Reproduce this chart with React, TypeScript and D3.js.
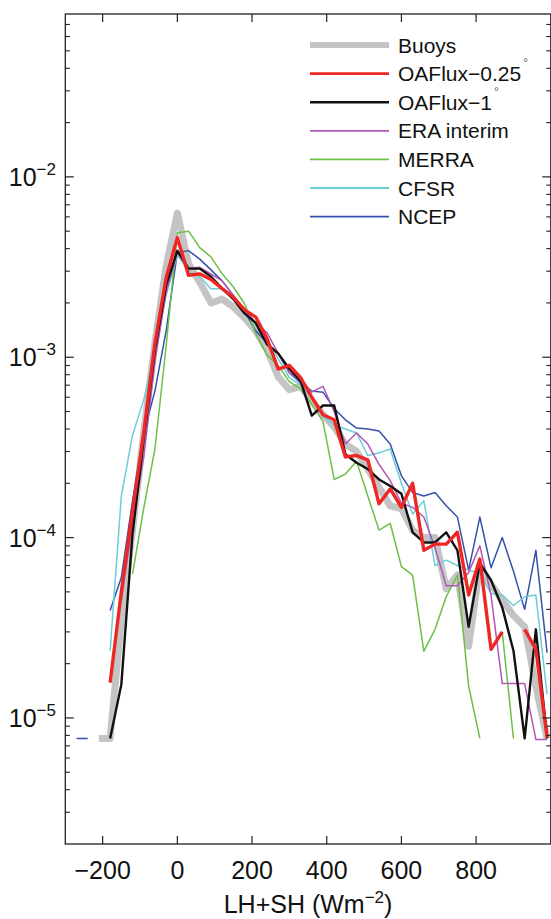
import React from 'react';
import * as d3 from 'd3';

// Bin centres of the flux histogram (W m^-2)
const fluxBins = [
  -270, -240, -210, -180, -150, -120, -90, -60, -30, 0, 30, 60, 90, 120, 150, 180, 210, 240,
  270, 300, 330, 360, 390, 420, 450, 480, 510, 540, 570, 600, 630, 660, 690, 720, 750, 780,
  810, 840, 870, 900, 930, 960, 990,
];

// Probability density per bin; null = empty bin
const buoys = [
  null, null, 7.7e-6, 7.7e-6, 3.5e-5, 1.1e-4, 3.8e-4, 1.2e-3, 3.2e-3, 6.3e-3, 3.3e-3, 2.6e-3, 2.0e-3, 2.1e-3, 1.9e-3, 1.65e-3, 1.4e-3, 1.1e-3,
  7.8e-4, 6.6e-4, 6.9e-4, 5.7e-4, 4.8e-4, 4.1e-4, 3.3e-4, 3.0e-4, 2.4e-4, 1.9e-4, 1.5e-4, 1.45e-4, 1.1e-4, 1.0e-4, 1.0e-4, 5.2e-5, 6.2e-5, 2.5e-5,
  7.0e-5, 5.5e-5, 4.5e-5, 3.7e-5, 3.2e-5, 1.5e-5, 7.7e-6,
];
const oaflux025 = [
  null, null, null, 1.57e-5, 5.0e-5, 1.4e-4, 3.8e-4, 1.2e-3, 2.75e-3, 4.6e-3, 2.85e-3, 2.9e-3, 2.7e-3, 2.4e-3, 2.15e-3, 1.83e-3, 1.67e-3, 1.27e-3,
  8.6e-4, 9.0e-4, 7.7e-4, 6.0e-4, 4.8e-4, 4.5e-4, 2.8e-4, 2.85e-4, 2.7e-4, 1.54e-4, 1.86e-4, 1.47e-4, 2.0e-4, 8.5e-5, 9.2e-5, 9.2e-5, 1.07e-4, 4.8e-5,
  7.6e-5, 2.4e-5, 3.0e-5, null, 3.1e-5, 2.4e-5, 7.8e-6,
];
const oaflux1 = [
  null, null, null, 7.7e-6, 1.53e-5, 1.05e-4, 3.5e-4, 1.1e-3, 2.5e-3, 3.9e-3, 3.1e-3, 3.1e-3, 2.8e-3, 2.4e-3, 2.1e-3, 1.75e-3, 1.55e-3, 1.18e-3,
  1.05e-3, 8.6e-4, 7.4e-4, 4.75e-4, 5.4e-4, 5.4e-4, 2.9e-4, 2.6e-4, 2.4e-4, 2.1e-4, 1.93e-4, 1.75e-4, 1.07e-4, 9.4e-5, 9.4e-5, 1.07e-4, 8.5e-5, 3.2e-5,
  7.2e-5, 5.8e-5, 4.1e-5, 2.36e-5, 7.7e-6, 3.1e-5, 7.7e-6,
];
const eraInterim = [
  null, null, null, null, 4.5e-5, 1.2e-4, 2.8e-4, 9.5e-4, 2.3e-3, 3.8e-3, 3.1e-3, 3.15e-3, 2.9e-3, 2.65e-3, 2.2e-3, 1.85e-3, 1.55e-3, 1.37e-3,
  1.05e-3, 8.2e-4, 7.6e-4, 6.4e-4, 6.9e-4, 5.0e-4, 3.3e-4, 3.8e-4, 3.3e-4, 2.55e-4, 2.07e-4, 1.55e-4, 1.47e-4, 1.3e-4, 8.8e-5, 5.4e-5, 5.4e-5, 6.4e-5,
  9.0e-5, 4.8e-5, 1.55e-5, 1.55e-5, 1.55e-5, 7.6e-6, 7.6e-6,
];
const merra = [
  null, null, null, null, null, 6.3e-5, 1.45e-4, 3.1e-4, 1.15e-3, 4.9e-3, 5.0e-3, 4.05e-3, 3.6e-3, 2.9e-3, 2.45e-3, 1.98e-3, 1.35e-3, 1.03e-3,
  9.0e-4, 7.3e-4, 6.7e-4, 5.5e-4, 4.4e-4, 2.1e-4, 2.25e-4, 2.65e-4, 1.7e-4, 1.1e-4, 1.2e-4, 6.9e-5, 6.2e-5, 2.34e-5, 3.1e-5, 4.7e-5, 6.2e-5, 1.5e-5,
  7.7e-6, null, 3.0e-5, 7.7e-6, null, null, null,
];
const cfsr = [
  null, null, null, 2.36e-5, 1.7e-4, 3.7e-4, 5.8e-4, 1.1e-3, 2.2e-3, 3.7e-3, 3.0e-3, 2.8e-3, 2.4e-3, 2.4e-3, 2.15e-3, 1.8e-3, 1.5e-3, 1.25e-3,
  9.8e-4, 7.7e-4, 7.0e-4, 6.0e-4, 4.7e-4, 4.2e-4, 4.0e-4, 3.8e-4, 2.85e-4, 2.95e-4, 3.1e-4, 2.0e-4, 1.35e-4, 1.6e-4, 7.0e-5, 7.5e-5, 7.0e-5, 6.6e-5,
  6.3e-5, 4.9e-5, 4.8e-5, 4.2e-5, 4.7e-5, 4.8e-5, 1.35e-5,
];
const ncep = [
  7.7e-6, 7.7e-6, null, 3.94e-5, 6.0e-5, 1.6e-4, 3.8e-4, 6.5e-4, 1.4e-3, 3.8e-3, 3.9e-3, 3.5e-3, 3.05e-3, 2.65e-3, 2.2e-3, 1.8e-3, 1.4e-3, 1.2e-3,
  1.05e-3, 8.2e-4, 7.2e-4, 6.5e-4, 6.4e-4, 5.2e-4, 4.5e-4, 4.05e-4, 4.0e-4, 3.9e-4, 3.3e-4, 2.2e-4, 1.78e-4, 1.7e-4, 1.78e-4, 1.5e-4, 1.3e-4, 6.6e-5,
  1.3e-4, 6.8e-5, 1.0e-4, 6.5e-5, 4.0e-5, 8.5e-5, 2.3e-5,
];

const seriesNames = ['Buoys', 'OAFlux\u22120.25', 'OAFlux\u22121', 'ERA interim', 'MERRA', 'CFSR', 'NCEP'];
const seriesValues = [buoys, oaflux025, oaflux1, eraInterim, merra, cfsr, ncep];
const xTicks = [-200, 0, 200, 400, 600, 800];
const yMajorExps = [-2, -3, -4, -5];

// Drawing style for each series (same order as seriesNames)
const styles = [
  { color: '#c4c4c4', width: 7, legendWidth: 6, degree: false },
  { color: '#ee2624', width: 3.4, legendWidth: 2.6, degree: true },
  { color: '#111111', width: 2.4, legendWidth: 2.4, degree: true },
  { color: '#b256b6', width: 1.5, legendWidth: 1.8, degree: false },
  { color: '#6cbf48', width: 1.5, legendWidth: 1.8, degree: false },
  { color: '#6ccdd6', width: 1.5, legendWidth: 1.8, degree: false },
  { color: '#3652a8', width: 1.5, legendWidth: 1.8, degree: false },
];
// Paint order: buoys underneath, OAFlux lines on top
const paintOrder = [0, 6, 5, 4, 3, 2, 1];

const W = 551;
const H = 919;
const L = 65.3, R = 550.8, T = 14, B = 844;
const FONT = "'Liberation Sans', Arial, Helvetica, sans-serif";

export default function App() {
  const x = d3.scaleLinear().domain([-300, 1000]).range([L, R]);
  const y = d3.scaleLog().domain([2e-6, 0.08]).range([B, T]);

  const line = d3
    .line<[number, number | null]>()
    .defined((d) => d[1] != null && (d[1] as number) > 0)
    .x((d) => x(d[0]))
    .y((d) => y(d[1] as number));

  // Minor log ticks inside the visible range
  const minorTicks: number[] = [];
  for (let e = -6; e <= -2; e++) {
    for (let k = 2; k <= 9; k++) {
      const v = k * Math.pow(10, e);
      if (v > 2e-6 && v < 0.08) minorTicks.push(v);
    }
  }
  const majorTicks = yMajorExps.map((e) => Math.pow(10, e));

  const legendX0 = 310, legendX1 = 389, legendY0 = 45, legendDy = 28.6;

  return (
    <svg
      width={W}
      height={H}
      style={{ position: 'absolute', left: 0, top: 0, background: '#fff' }}
      fontFamily={FONT}
    >
      <defs>
        <clipPath id="plotClip">
          <rect x={L} y={T} width={R - L} height={B - T} />
        </clipPath>
      </defs>
      <rect x={0} y={0} width={W} height={H} fill="#fff" />

      {/* data lines */}
      <g clipPath="url(#plotClip)" fill="none" strokeLinejoin="round">
        {paintOrder.map((i) => {
          const pts = fluxBins.map((b, j) => [b, seriesValues[i][j]] as [number, number | null]);
          return (
            <path
              key={seriesNames[i]}
              d={line(pts) || ''}
              stroke={styles[i].color}
              strokeWidth={styles[i].width}
            />
          );
        })}
      </g>

      {/* frame */}
      <rect x={L} y={T} width={R - L} height={B - T} fill="none" stroke="#222" strokeWidth={1.3} />

      {/* x ticks (bottom and top, inward) */}
      {xTicks.map((t) => (
        <g key={'xt' + t}>
          <line x1={x(t)} x2={x(t)} y1={B} y2={B - 8} stroke="#222" strokeWidth={1.2} />
          <line x1={x(t)} x2={x(t)} y1={T} y2={T + 8} stroke="#222" strokeWidth={1.2} />
          <text x={x(t)} y={879} textAnchor="middle" fontSize={25} fill="#111">
            {t < 0 ? '\u2212' + Math.abs(t) : String(t)}
          </text>
        </g>
      ))}

      {/* y ticks (left and right, inward) */}
      {majorTicks.map((v, i) => (
        <g key={'ym' + i}>
          <line x1={L} x2={L + 8.5} y1={y(v)} y2={y(v)} stroke="#222" strokeWidth={1.2} />
          <line x1={R} x2={R - 8.5} y1={y(v)} y2={y(v)} stroke="#222" strokeWidth={1.2} />
          <text x={56} y={y(v) + 9} textAnchor="end" fontSize={25} fill="#111">
            10
            <tspan dy={-11} fontSize={17}>
              {'\u2212' + Math.abs(yMajorExps[i])}
            </tspan>
          </text>
        </g>
      ))}
      {minorTicks.map((v, i) => (
        <g key={'yn' + i}>
          <line x1={L} x2={L + 4.5} y1={y(v)} y2={y(v)} stroke="#222" strokeWidth={1.1} />
          <line x1={R} x2={R - 4.5} y1={y(v)} y2={y(v)} stroke="#222" strokeWidth={1.1} />
        </g>
      ))}

      {/* axis title */}
      <text x={(L + R) / 2} y={913} textAnchor="middle" fontSize={25} fill="#111">
        LH+SH (Wm
        <tspan dy={-10} fontSize={17}>
          {'\u22122'}
        </tspan>
        <tspan dy={10}>)</tspan>
      </text>

      {/* legend */}
      {seriesNames.map((name, i) => {
        const ly = legendY0 + i * legendDy;
        return (
          <g key={'lg' + name}>
            <line
              x1={legendX0}
              x2={legendX1}
              y1={ly}
              y2={ly}
              stroke={styles[i].color}
              strokeWidth={styles[i].legendWidth}
            />
            <text x={398} y={ly + 7.5} fontSize={21} fill="#111">
              {name}
              {styles[i].degree ? (
                <tspan dy={-14} dx={2} fontSize={12} fill="#555">
                  {'\u00b0'}
                </tspan>
              ) : null}
            </text>
          </g>
        );
      })}
    </svg>
  );
}
